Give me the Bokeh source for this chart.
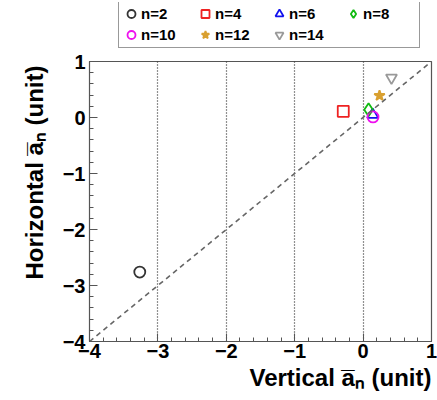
from bokeh.plotting import figure
from bokeh.layouts import column
from bokeh.models import Range1d, FixedTicker, Legend, LegendItem, Slope, Title
from bokeh.embed import file_html
from bokeh.resources import INLINE
import numpy as np

# Harmonic coefficients: vertical vs horizontal mean a_n for each order n
orders = [2, 4, 6, 8, 10, 12, 14]
vertical = [-3.265, -0.29, 0.14, 0.08, 0.145, 0.24, 0.415]
horizontal = [-2.76, 0.11, 0.05, 0.14, 0.01, 0.39, 0.71]
markers = ["circle", "square", "triangle", "diamond", "circle", "star", "inverted_triangle"]
colors = ["#333333", "#ee2222", "#1111ee", "#11bb11", "#ee11ee", "#d9a030", "#999999"]

major_ticks = [-4, -3, -2, -1, 0, 1]
minor_ticks = [round(v, 2) for v in np.arange(-4, 1.001, 0.2)]
tick_text = {t: ("\u2212" + str(-t) if t < 0 else str(t)) for t in major_ticks}

FONT = "Liberation Sans"


def add_points(fig):
    """Draw one marker per order n; returns the renderers keyed by n."""
    out = {}
    for n, xv, yv, m, c in zip(orders, vertical, horizontal, markers, colors):
        filled = m == "star"
        out[n] = fig.scatter([xv], [yv], marker=m, size=11 if m != "diamond" else 13,
                             line_color=c, line_width=1.8,
                             fill_color=c if filled else None)
    return out


# ---- main scatter panel ----
p = figure(width=437, height=352, output_backend="svg", toolbar_location=None,
           x_range=Range1d(-4, 1), y_range=Range1d(-4, 1),
           min_border_left=89, min_border_right=6, min_border_top=13, min_border_bottom=59)
p.background_fill_color = "white"
p.border_fill_color = "white"
p.outline_line_color = "#555555"
p.outline_line_width = 1.2

for ax in (p.xaxis[0], p.yaxis[0]):
    ax.ticker = FixedTicker(ticks=major_ticks, minor_ticks=minor_ticks)
    ax.major_label_overrides = tick_text
    ax.major_label_text_font = FONT
    ax.major_label_text_font_style = "bold"
    ax.major_label_text_font_size = "20px"
    ax.major_label_text_color = "black"
    ax.major_tick_in = 8
    ax.major_tick_out = 0
    ax.minor_tick_in = 4
    ax.minor_tick_out = 0
    ax.axis_line_color = "#555555"
    ax.major_tick_line_color = "#555555"
    ax.minor_tick_line_color = "#555555"
p.xaxis[0].major_label_standoff = 2
p.yaxis[0].major_label_standoff = 4

# axis titles, flush with the far end of each axis
x_title = Title(text="Vertical a\u0305\u2099 (unit)", align="right",
                text_font=FONT, text_font_style="bold", text_font_size="24px",
                text_color="black", standoff=2, offset=0)
y_title = Title(text="Horizontal a\u0305\u2099 (unit)", align="right",
                text_font=FONT, text_font_style="bold", text_font_size="24px",
                text_color="black", standoff=24, offset=4)
p.add_layout(x_title, "below")
p.add_layout(y_title, "left")

# dotted vertical guides only
p.ygrid.visible = False
p.xgrid.ticker = FixedTicker(ticks=[-3, -2, -1, 0])
p.xgrid.grid_line_color = "#222222"
p.xgrid.grid_line_dash = "1 2"
p.xgrid.grid_line_width = 1.2

# identity line
p.add_layout(Slope(gradient=1, y_intercept=0, line_color="#666666",
                   line_dash="5 4", line_width=1.6))

add_points(p)

# ---- legend strip above the panel ----
# same markers, drawn outside this strip's visible range so only the key shows
top = figure(width=437, height=48, output_backend="svg", toolbar_location=None,
             x_range=Range1d(10, 11), y_range=Range1d(10, 11),
             x_axis_location=None, y_axis_location=None,
             min_border_left=89, min_border_right=6, min_border_top=2, min_border_bottom=0)
top.grid.visible = False
top.outline_line_color = None
top.background_fill_color = "white"
top.border_fill_color = "white"
key = add_points(top)

# legend fills column by column; order so rows read n=2..8 then n=10..14
legend_order = [2, 10, 4, 12, 6, 14, 8]
legend = Legend(items=[LegendItem(label=f"n={n}", renderers=[key[n]]) for n in legend_order],
                ncols=4, location=(29, 0),
                glyph_width=20, glyph_height=21, label_height=21,
                label_width=54, label_standoff=0, spacing=0, padding=2,
                margin=0, border_line_color="#333333", border_line_width=1.2,
                background_fill_alpha=1.0,
                label_text_font=FONT, label_text_font_style="bold",
                label_text_font_size="15px", label_text_color="black")
top.add_layout(legend, "center")

open("out.html", "w").write(file_html(column(top, p, spacing=0), INLINE))
